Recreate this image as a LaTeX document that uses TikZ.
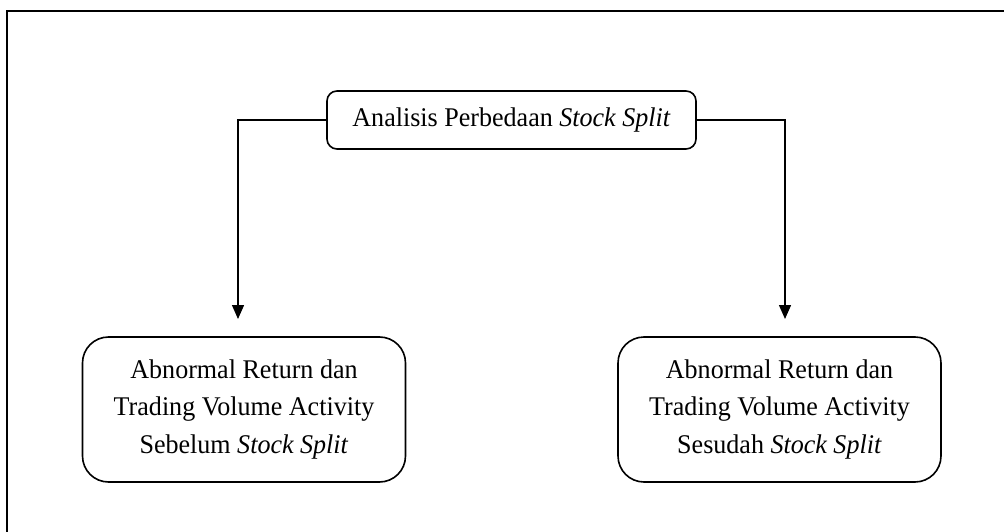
\documentclass[tikz,border=0pt]{standalone}
\usepackage{fontspec}
\usepackage{graphicx}
\setmainfont{Liberation Serif}
\usetikzlibrary{arrows.meta}
\newcommand{\narrowtext}[1]{\scalebox{0.965}[1]{#1}}
\begin{document}
\begin{tikzpicture}[x=1pt,y=-1pt,
  box/.style={draw=black,line width=1.6pt,align=center,inner sep=0pt,
    font=\fontsize{27}{37.5}\selectfont},
  topbox/.style={box,rounded corners=10pt,minimum width=369pt,minimum height=58pt},
  botbox/.style={box,rounded corners=26pt,minimum width=323pt,minimum height=145pt},
  conn/.style={draw=black,line width=1.4pt},
  arr/.style={conn,-{Triangle[length=14pt,width=12pt]}}]
\useasboundingbox (0,0) rectangle (1004,532);
\draw[line width=2.4pt] (7,11) rectangle (1020,560);
\node[topbox] (top) at (511.5,120) {\narrowtext{Analisis Perbedaan \textit{Stock Split}}};
\node[botbox] (left) at (244,409.5) {\narrowtext{Abnormal Return dan}\\\narrowtext{Trading Volume Activity}\\\narrowtext{Sebelum \textit{Stock Split}}};
\node[botbox] (right) at (779.5,409.5) {\narrowtext{Abnormal Return dan}\\\narrowtext{Trading Volume Activity}\\\narrowtext{Sesudah \textit{Stock Split}}};
\coordinate (lt) at (238,319);
\coordinate (rt) at (785,319);
\draw[arr] (top.west) -| (lt);
\draw[arr] (top.east) -| (rt);
\end{tikzpicture}
\end{document}
